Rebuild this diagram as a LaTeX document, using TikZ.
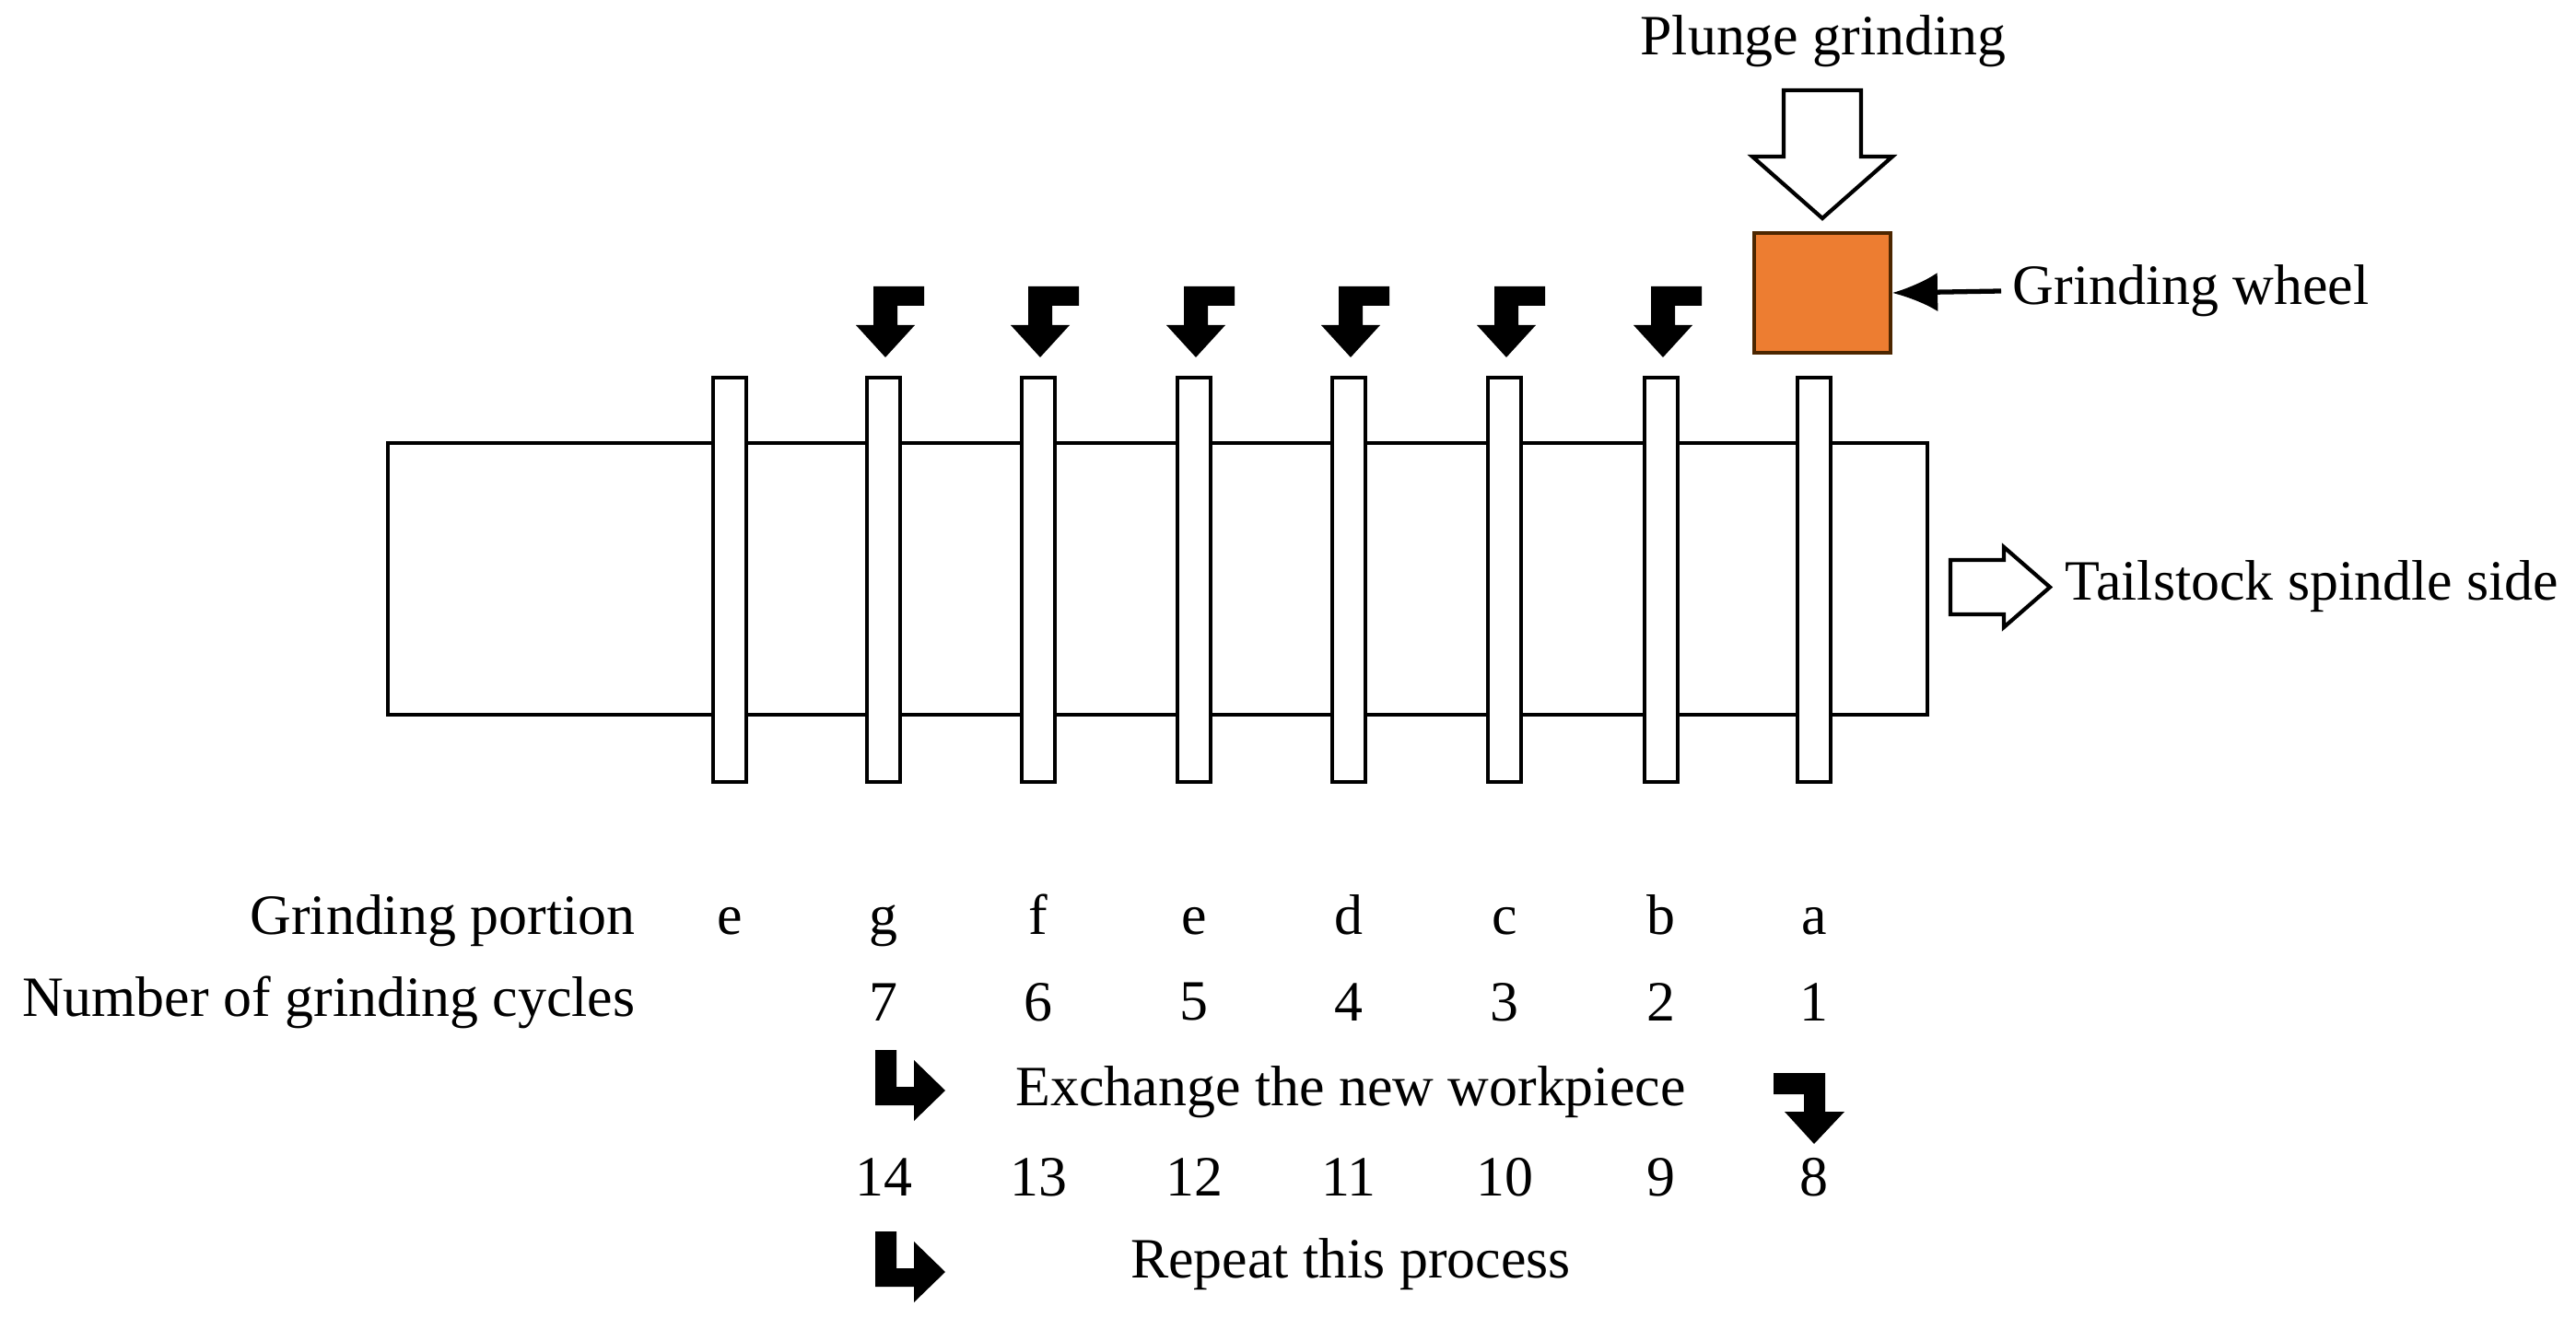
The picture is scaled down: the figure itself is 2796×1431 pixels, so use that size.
\documentclass[tikz,border=0pt]{standalone}
\usepackage{fontspec}
\setmainfont{Liberation Serif}
\usetikzlibrary{arrows.meta}
\begin{document}
\begin{tikzpicture}[x=0.01cm,y=-0.01cm,
  lbl/.style={font=\fontsize{17.6}{20}\selectfont, inner sep=0pt},
  box/.style={draw, line width=1.2pt, fill=white},
  blk/.style={fill=black}]
\useasboundingbox (0,0) rectangle (2796,1431);
% shaft
\node[box, minimum width=1671*0.01cm, minimum height=295*0.01cm, inner sep=0] (shaft) at (1256.5,628.5) {};
% rings
\foreach \n/\cx in {r1/792,r2/959,r3/1127,r4/1296,r5/1464,r6/1633,r7/1803,r8/1969}{
  \node[box, minimum width=0.36cm, minimum height=4.39cm, inner sep=0] (\n) at (\cx,629.5) {};
}
% bent down arrows
\foreach \cx in {961,1129,1298,1466,1635,1805}{
  \fill[blk] (\cx-13,311) -- (\cx+42,311) -- (\cx+42,332) -- (\cx+13,332) -- (\cx+13,353)
   -- (\cx+32,353) -- (\cx,388) -- (\cx-32,353) -- (\cx-13,353) -- cycle;
}
% grinding wheel
\node[draw=black!70!orange, line width=1pt, fill={rgb,255:red,237;green,125;blue,49}, minimum width=1.48cm, minimum height=1.30cm, inner sep=0] (wheel) at (1978,318) {};
% plunge arrow
\draw[line width=1.2pt, fill=white] (1936,98) -- (2020,98) -- (2020,170) -- (2054,170) -- (1978,237) -- (1902,170) -- (1936,170) -- cycle;
\node[lbl] (plunge) at (1979,45) {Plunge grinding};
\node[lbl, anchor=west] (gw) at (2184,316) {Grinding wheel};
\draw[line width=1.5pt, -{Latex[length=14pt,width=12pt]}] (gw.west) ++(-12,0) -- (wheel.east);
% tailstock arrow
\draw[line width=1.2pt, fill=white] (2117,608) -- (2175,608) -- (2175,594) -- (2225,637.5) -- (2175,681) -- (2175,667) -- (2117,667) -- cycle;
\node[lbl, anchor=west] (tail) at (2241,637) {Tailstock spindle side};
% table
\node[lbl, anchor=east] (gp) at (690,1000) {Grinding portion};
\node[lbl, anchor=east] (nc) at (690,1088) {Number of grinding cycles};
\foreach \cx/\l in {792/e,959/g,1127/f,1296/e,1464/d,1633/c,1803/b,1969/a}{
  \node[lbl] at (\cx,1000) {\strut\l};
}
\foreach \cx/\l in {959/7,1127/6,1296/5,1464/4,1633/3,1803/2,1969/1}{
  \node[lbl] at (\cx,1088) {\l};
}
\foreach \cx/\l in {959/14,1127/13,1296/12,1464/11,1633/10,1803/9,1969/8}{
  \node[lbl] at (\cx,1278) {\l};
}
\node[lbl] (ex) at (1466,1186) {Exchange the new workpiece};
\node[lbl] (rep) at (1466,1373) {Repeat this process};
% return arrows
\foreach \y in {1140,1337}{
  \fill[blk] (950,\y) -- (973,\y) -- (973,\y+40) -- (992,\y+40) -- (992,\y+11) -- (1026,\y+44)
    -- (992,\y+77) -- (992,\y+60) -- (950,\y+60) -- cycle;
}
\fill[blk] (1925,1165) -- (1981,1165) -- (1981,1207) -- (2002,1207) -- (1969,1242) -- (1937,1207) -- (1958,1207) -- (1958,1188) -- (1925,1188) -- cycle;
\end{tikzpicture}
\end{document}
